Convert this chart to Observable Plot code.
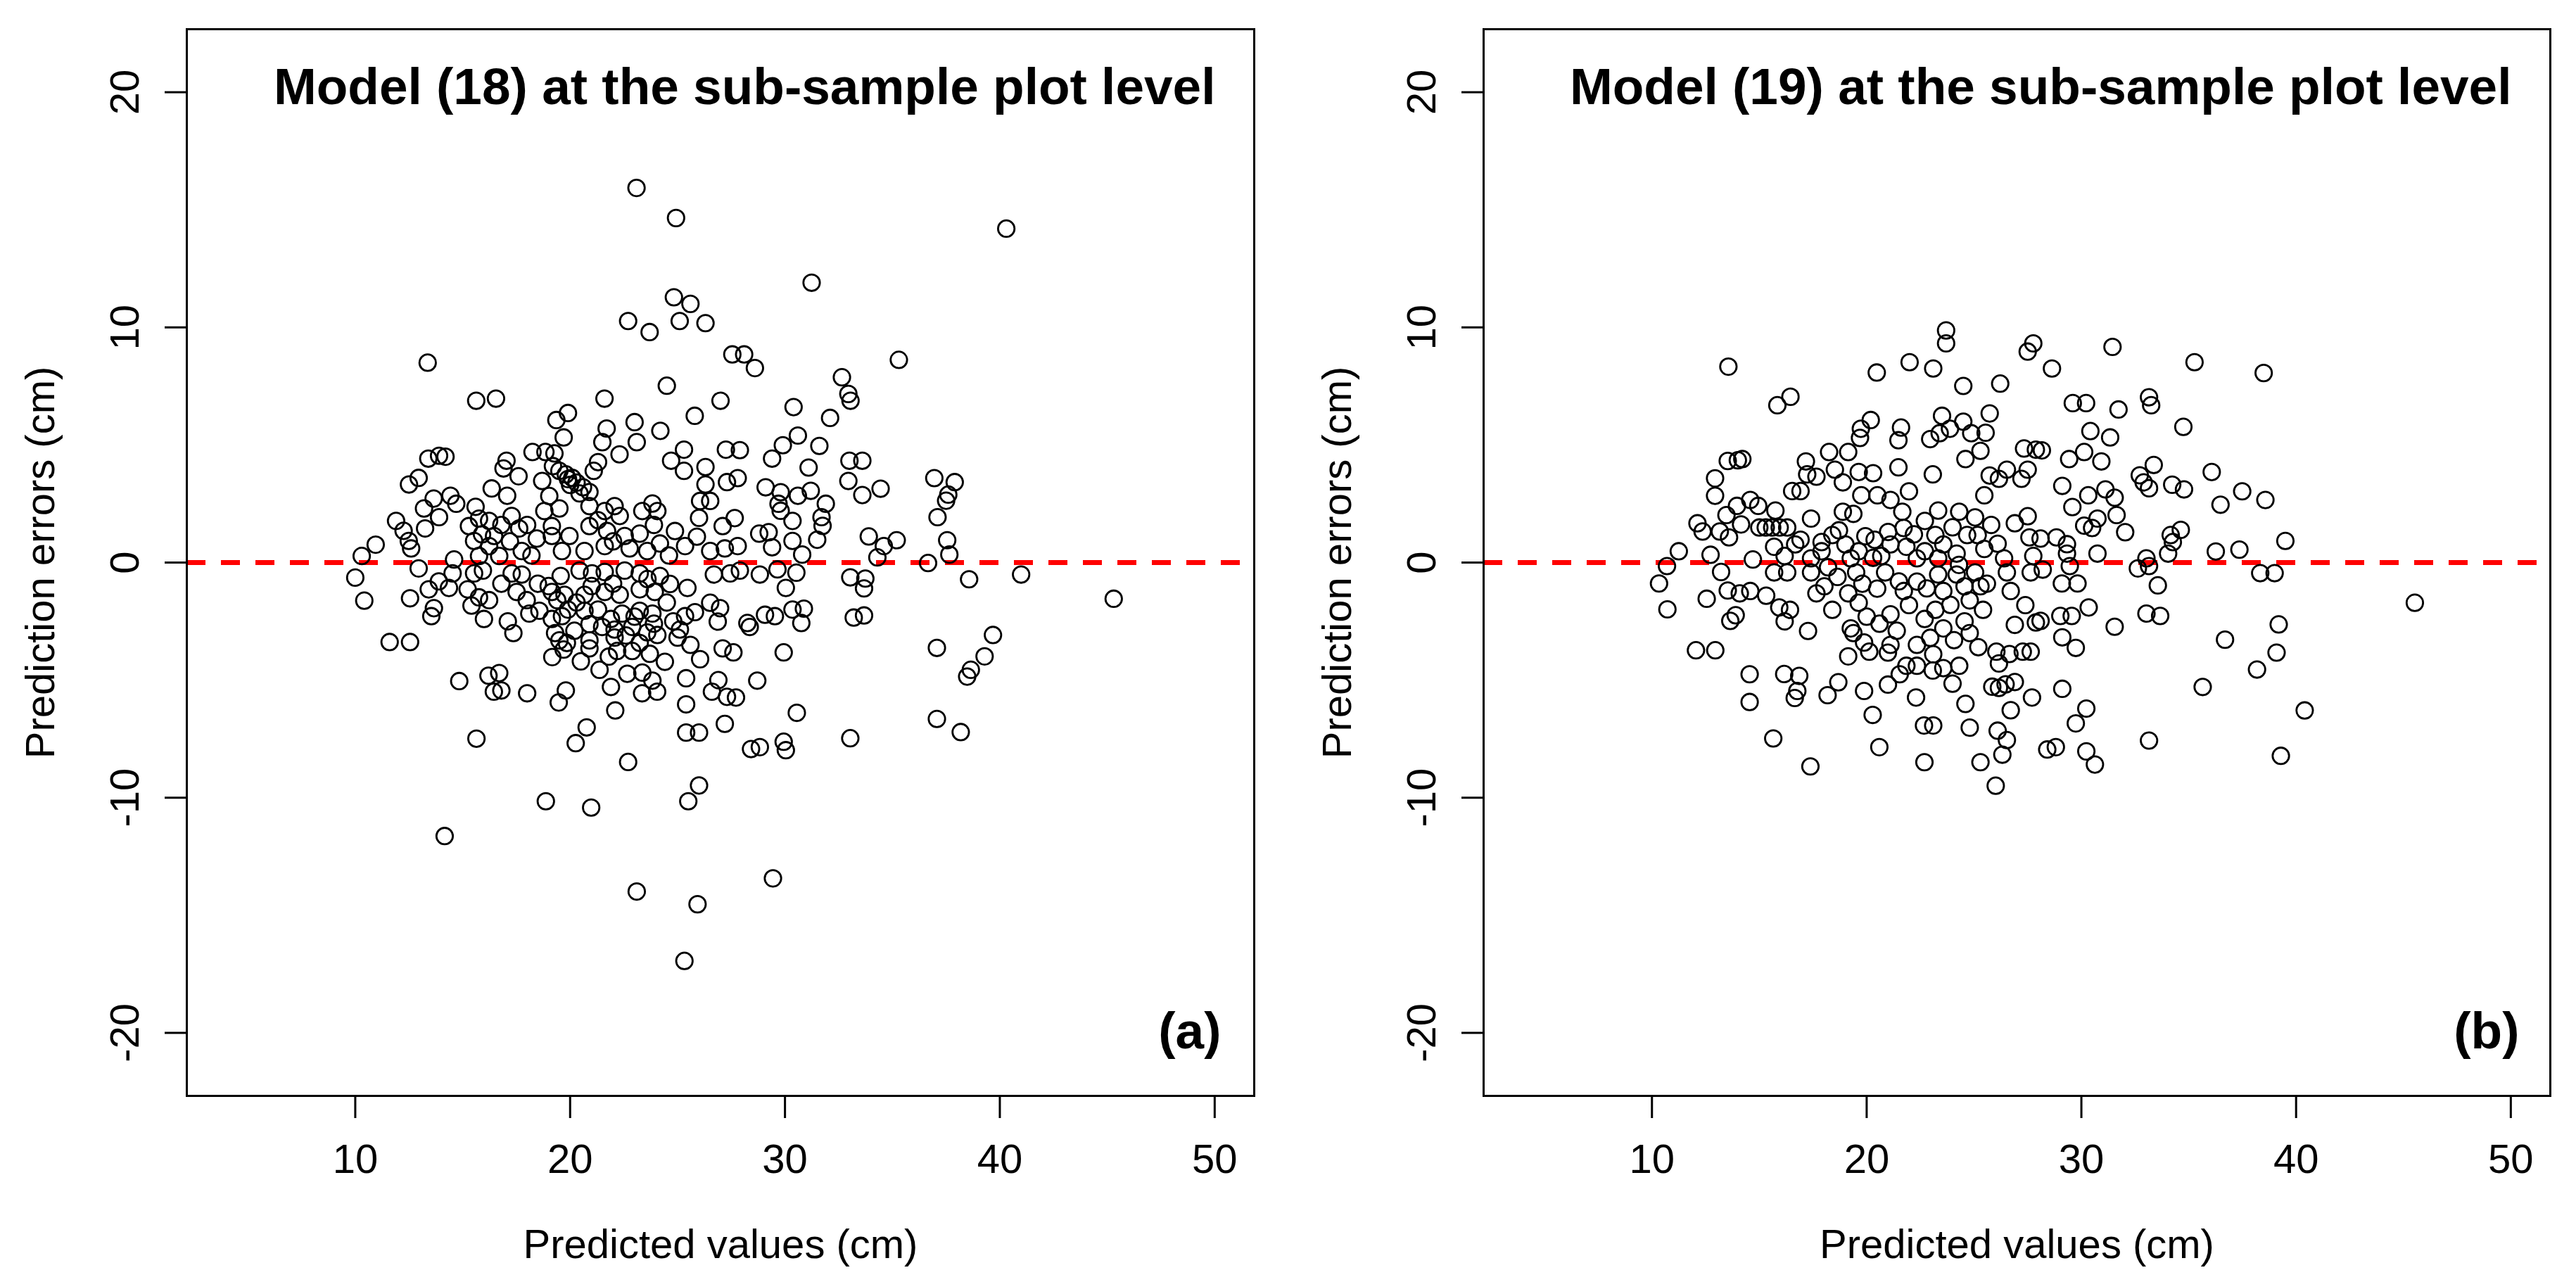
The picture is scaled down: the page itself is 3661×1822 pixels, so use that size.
<!DOCTYPE html>
<html><head><meta charset="utf-8">
<script src="https://cdn.jsdelivr.net/npm/d3@7"></script>
<script src="https://cdn.jsdelivr.net/npm/@observablehq/plot@0.6"></script>
<style>
html,body{margin:0;padding:0;background:#fff;}
#row{display:flex;width:3661px;height:1822px;overflow:hidden;}
#row svg{flex:none;}
</style></head><body><div id="row"></div>
<script>
// Model (18): [predicted value (cm), prediction error (cm)]
const model18 = [
[23.09,15.93],[24.93,14.65],[13.37,8.5],[24.83,11.28],[25.6,11.0],[22.7,10.27],[23.7,9.8],[25.1,10.27],[26.3,10.18],[27.55,8.85],[28.1,8.85],
[15.63,6.88],[16.55,6.97],[21.6,6.97],[24.5,7.52],[27.0,6.88],[19.9,6.36],[19.36,6.06],[23.0,5.97],[21.7,5.7],[24.2,5.6],[25.8,6.24],
[19.7,5.32],[21.5,5.12],[23.1,5.12],[22.3,4.6],[25.3,4.8],[27.25,4.8],[13.4,4.42],[13.9,4.54],[14.2,4.5],[18.25,4.7],[18.85,4.7],[19.27,4.64],
[17.04,4.33],[16.9,4.0],[17.6,3.67],[18.7,3.47],[21.3,4.27],[21.1,3.9],[24.7,4.33],[25.3,3.9],[26.3,4.06],[26.3,3.32],[27.3,3.42],
[12.95,3.6],[12.5,3.32],[16.35,3.15],[17.07,2.84],[13.65,2.72],[14.43,2.84],[14.7,2.5],[13.2,2.3],[13.9,1.93],[15.6,2.37],[11.9,1.77],
[12.25,1.35],[13.25,1.45],[10.95,0.76],[10.3,0.28],[12.6,0.6],[14.6,0.13],
[19.2,4.1],[19.5,3.9],[19.8,3.75],[20.1,3.6],[20.3,3.4],[20.6,3.2],[20.9,3.0],[20.0,3.3],[19.9,3.55],
[22.07,2.4],[23.83,2.51],[26.05,2.62],[26.52,2.62],[20.44,2.94],[19.03,2.83],
[15.29,1.55],[15.76,1.87],[16.23,1.77],[16.46,1.13],[17.28,1.98],[17.63,1.45],[15.53,0.92],[16.23,0.7],[15.76,0.28],[16.7,0.28],[17.75,0.49],
[18.45,1.02],[19.15,1.13],[19.97,1.13],[19.62,0.49],[18.8,2.19],[19.5,2.3],[19.15,1.55],[20.9,2.4],[21.61,2.19],[22.31,1.98],[23.36,2.19],
[24.06,2.19],[20.9,1.55],[21.72,1.34],[22.54,1.13],[23.24,1.23],[22.77,0.6],[23.59,0.49],[24.18,0.81],[24.88,1.34],[25.35,0.7],[26.52,0.49],
[27.1,1.55],[21.61,0.7],[20.67,0.49],[12.49,0.92],
[15.9,1.2],[16.8,1.6],[17.2,0.9],[18.0,1.6],[18.2,0.3],[21.3,1.8],[22.0,0.9],[23.9,1.6],[24.6,0.3],[25.9,1.1],[26.0,1.9],[27.2,0.6],
[40.3,14.2],[31.24,11.9],[28.6,8.27],[35.3,8.62],[32.65,7.88],[32.95,7.17],[33.05,6.88],[30.4,6.61],[32.1,6.15],[30.6,5.4],[29.9,4.99],
[31.6,4.96],[29.4,4.42],[27.9,4.78],[31.1,4.04],[33.0,4.33],[33.6,4.33],[32.95,3.47],[34.45,3.14],[33.6,2.87],[36.95,3.59],[37.9,3.42],
[37.6,2.89],[37.5,2.63],[37.1,1.93],[27.8,3.59],[29.1,3.2],[29.8,2.99],[30.6,2.84],[31.2,3.05],[31.9,2.5],[29.7,2.5],[29.8,2.2],[30.35,1.77],
[31.7,1.93],[31.75,1.56],[27.66,1.89],[28.8,1.23],[29.24,1.29],[29.4,0.65],[30.35,0.92],[30.8,0.34],[31.5,0.97],[33.9,1.11],[34.6,0.7],
[35.2,0.95],[34.3,0.22],[37.55,0.95],[37.65,0.34],[27.8,0.7],
[25.32,-16.94],[23.1,-13.99],[25.93,-14.53],[14.16,-11.63],[18.87,-10.15],[20.98,-10.42],[22.7,-8.48],[26.0,-9.48],[25.5,-10.15],
[15.64,-7.49],[20.77,-7.01],[20.26,-7.68],[22.1,-6.29],[25.4,-6.03],[25.4,-7.23],[26.0,-7.23],[27.2,-6.86],[27.3,-5.71],[14.84,-5.04],
[16.2,-4.81],[16.7,-4.7],[16.45,-5.49],[16.8,-5.44],[18.0,-5.56],[19.8,-5.44],[19.47,-5.95],[23.35,-5.56],[24.05,-5.49],[25.4,-4.92],
[21.9,-5.29],[26.9,-5.0],[26.6,-5.49],[11.6,-3.38],[12.55,-3.38],[10.0,-0.64],[12.95,-0.25],
[14.53,-0.46],[15.53,-0.46],[15.94,-0.34],[17.28,-0.46],[17.75,-0.51],[19.56,-0.57],[20.44,-0.34],[21.02,-0.46],[21.61,-0.4],[22.54,-0.34],
[23.24,-0.46],[24.18,-0.57],[26.69,-0.51],[27.45,-0.46],[10.42,-1.62],[12.55,-1.52],[13.42,-1.14],[13.89,-0.8],[14.36,-1.08],[15.23,-1.14],
[15.76,-1.48],[16.23,-1.6],[17.51,-1.25],[17.98,-1.6],[19.15,-1.25],[19.74,-1.37],[20.67,-1.37],[21.61,-1.25],[22.31,-1.37],[23.24,-1.14],
[23.94,-1.25],[24.65,-0.91],[25.46,-1.08],[26.52,-1.71],[26.98,-1.94],[13.66,-1.94],[13.54,-2.28],[15.41,-1.83],[15.99,-2.4],[18.1,-2.17],
[18.57,-2.05],[19.15,-2.4],[19.62,-2.28],[20.67,-2.05],[22.42,-2.17],[23.24,-2.05],[23.83,-2.17],[25.35,-2.28],[25.81,-2.11],[26.87,-2.51],
[21.49,-2.74],[22.07,-2.85],[22.89,-2.74],[23.59,-2.97],[25.11,-2.85],[20.9,-2.62],[17.36,-3.0],[19.5,-3.31],[19.85,-3.42],[20.9,-3.31],
[22.07,-3.19],[23.24,-3.42],[24.06,-3.08],[25.0,-3.19],[20.9,-3.65],[22.19,-3.76],[22.89,-3.76],[23.71,-3.88],[24.41,-4.22],[19.17,-4.02],
[26.05,-4.11],[27.1,-3.65],[21.37,-4.56],[22.66,-4.73],[23.36,-4.68],[23.83,-5.02],
[19.0,-1.0],[19.4,-1.6],[19.9,-2.0],[20.2,-2.9],[19.3,-3.0],[19.7,-3.7],[20.3,-1.7],[21.3,-2.0],[21.9,-2.4],[22.6,-3.1],[23.0,-2.3],
[23.9,-2.6],[24.5,-1.7],[21.0,-1.0],[22.0,-0.9],[23.6,-0.7],[18.5,-0.9],[16.8,-0.9],[17.1,-2.5],[24.8,-2.5],[25.6,-3.5],[20.5,-4.2],[21.8,-4.0],
[45.3,-1.54],[40.99,-0.51],[38.57,-0.71],[36.66,-0.02],[39.68,-3.08],[37.07,-3.63],[39.29,-3.99],[38.65,-4.56],[38.48,-4.85],[37.07,-6.65],
[38.18,-7.21],[29.44,-13.43],[33.04,-7.47],[28.42,-7.93],[28.83,-7.85],[29.94,-7.62],[30.04,-7.98],[30.55,-6.39],[28.71,-5.02],[27.72,-5.74],
[27.6,-3.82],[29.94,-3.82],[33.04,-0.63],[33.74,-0.68],[33.68,-1.1],[33.2,-2.34],[33.68,-2.25],[28.83,-0.51],[29.65,-0.29],[30.53,-0.43],
[30.04,-1.08],[27.9,-0.34],[28.25,-2.57],[28.36,-2.74],[29.07,-2.22],[29.53,-2.28],[30.35,-2.0],[30.88,-1.96],[30.76,-2.57]
];
// Model (19): [predicted value (cm), prediction error (cm)]
const model19 = [
[23.70,9.87],[23.70,9.32],[27.76,9.32],[27.5,8.97],[13.56,8.33],[20.47,8.08],[22.0,8.52],[23.1,8.25],[24.5,7.51],[26.22,7.61],[16.45,7.05],
[15.84,6.69],[20.19,6.06],[19.73,5.69],[19.69,5.3],[21.6,5.74],[21.48,5.2],[23.51,6.24],[24.5,5.99],[25.73,6.34],[23.88,5.69],[22.96,5.25],
[23.4,5.5],[24.87,5.5],[25.54,5.52],[25.3,4.75],[24.6,4.4],[27.33,4.85],[27.88,4.8],[18.25,4.7],[19.14,4.7],[17.17,4.3],[13.53,4.32],
[14.21,4.4],[14.0,4.35],[21.48,4.05],[23.08,3.75],[18.52,3.95],[19.63,3.85],[20.3,3.8],[17.23,3.75],[17.66,3.65],[18.89,3.41],[12.94,3.58],
[25.73,3.7],[26.53,3.95],[27.5,3.95],[26.16,3.56],[27.21,3.56],[21.97,3.03],[25.48,2.86],[12.94,2.84],[16.53,3.04],[16.92,3.04],[20.5,2.86],
[19.75,2.86],[21.11,2.66],[14.58,2.66],[13.96,2.41],[14.95,2.41],[15.75,2.21],[13.47,2.02],[18.89,2.16],[19.38,2.07],[21.66,2.16],[23.33,2.21],
[24.31,2.16],[25.05,1.92],[27.5,1.97],[26.9,1.67],[12.12,1.67],[12.36,1.32],[14.15,1.62],[13.16,1.32],[13.59,1.07],[15.0,1.49],[15.3,1.49],
[15.6,1.49],[15.95,1.49],[16.3,1.49],[17.41,1.87],[18.71,1.37],[19.94,1.12],[21.72,1.47],[22.71,1.77],[23.2,1.17],[24.68,1.17],[25.17,1.17],
[27.58,1.07],[11.25,0.48],[12.73,0.33],[15.69,0.67],[16.67,0.77],[17.9,0.48],[19.63,0.48],[21.11,0.77],[21.85,0.67],[22.71,0.48],[23.57,0.77],
[24.19,0.38],[25.48,0.58],[26.4,0.18],[27.76,0.28],[20.68,0.28],[16.18,0.28],[14.7,0.13],[16.92,0.97],[17.9,0.87],[18.4,1.17],[19.01,0.77],
[20.37,0.97],[22.34,0.18],[23.33,0.18],[17.41,0.18],[19.26,0.18],
[21.0,1.3],[22.2,1.2],[24.0,1.5],[25.8,1.6],[20.3,0.2],[26.1,0.8],
[31.45,9.17],[35.27,8.52],[38.49,8.06],[28.63,8.25],[29.6,6.78],[30.22,6.78],[31.73,6.51],[33.15,7.03],[33.25,6.69],[34.75,5.77],[30.42,5.59],
[31.34,5.32],[30.13,4.7],[29.43,4.4],[30.93,4.3],[28.16,4.77],[33.37,4.15],[32.72,3.71],[32.9,3.41],[33.15,3.16],[34.23,3.31],[34.78,3.11],
[36.07,3.85],[37.49,3.03],[38.57,2.66],[36.48,2.46],[29.11,3.26],[30.32,2.86],[31.12,3.11],[31.55,2.76],[29.58,2.36],[30.75,1.87],[31.64,2.02],
[30.13,1.57],[32.04,1.29],[34.63,1.39],[34.16,1.17],[34.26,0.87],[39.5,0.92],[36.26,0.47],[37.36,0.55],[30.75,0.38],[29.33,0.78],[28.1,1.02],
[34.04,0.38],[33.03,0.18],[29.33,0.38],[30.5,1.47],[28.84,1.07],
[10.7,-0.15],[10.33,-0.89],[10.72,-1.99],[12.55,-1.54],[13.9,-2.24],[13.65,-2.48],[13.53,-1.19],[13.22,-0.4],[12.05,-3.73],[12.95,-3.73],
[14.55,-4.75],[14.55,-5.93],[16.16,-4.74],[16.86,-4.82],[16.77,-5.46],[16.65,-5.76],[18.68,-5.09],[18.18,-5.64],[17.27,-2.91],[19.88,-5.46],
[20.28,-6.48],[20.99,-5.19],[15.65,-7.48],[17.38,-8.67],[20.59,-7.85],[22.3,-5.74],[21.54,-4.75],[20.99,-3.83],[22.67,-6.93],[23.1,-6.93],
[22.69,-8.49],[24.6,-6.01],[24.8,-7.02],[26.1,-7.15],[26.53,-7.55],[26.32,-8.17],[25.3,-8.49],[26.01,-9.49],[26.71,-6.28],[27.7,-5.74],
[24.0,-5.15],[25.85,-5.28],[26.16,-5.33],[26.47,-5.18],[26.9,-5.08],[22.34,-4.39],[23.08,-4.59],[23.57,-4.49],[24.31,-4.39],[26.04,-3.79],
[26.65,-3.89],[27.27,-3.79],[27.64,-3.79],[26.16,-4.29],[26.9,-2.65],[27.88,-2.55],[27.39,-1.81],[26.71,-1.21],[26.53,-0.42],[27.64,-0.42],
[21.85,-4.39],[14.09,-1.31],[14.58,-1.21],[15.32,-1.41],[15.93,-1.91],[16.18,-2.5],[16.43,-2.01],[15.69,-0.42],[16.3,-0.42],[17.41,-0.42],
[18.03,-1.01],[18.64,-0.61],[17.66,-1.31],[18.4,-2.01],[19.14,-1.31],[19.63,-1.71],[20.0,-2.3],[20.49,-1.11],[21.11,-2.2],[21.73,-1.21],
[21.97,-1.81],[22.34,-0.81],[23.2,-2.01],[23.57,-1.21],[24.19,-0.51],[24.56,-1.01],[24.8,-1.61],[25.3,-1.01],[24.56,-2.5],[23.57,-2.8],
[22.96,-3.2],[22.34,-3.5],[21.11,-3.5],[19.88,-3.4],[19.26,-2.8],[24.07,-3.3],[24.8,-3.0],[25.42,-2.01],[25.05,-0.42],[23.33,-0.51],
[20.86,-0.42],[19.51,-0.42],[19.38,-3.0],[20.12,-3.79],[19.14,-3.99],
[19.8,-0.9],[20.6,-2.6],[21.5,-0.8],[22.7,-2.4],[23.9,-1.8],[24.3,-0.1],[25.6,-0.9],[18.2,-0.2],[22.8,-1.1],[21.4,-2.9],[25.2,-3.6],[23.1,-3.9],
[38.33,-0.45],[39.0,-0.45],[33.56,-0.97],[39.19,-2.63],[36.69,-3.28],[39.09,-3.83],[38.18,-4.55],[35.65,-5.29],[40.4,-6.29],[39.29,-8.22],
[33.15,-7.57],[29.11,-5.37],[30.23,-6.21],[29.74,-6.84],[28.41,-7.95],[28.81,-7.85],[30.23,-8.03],[30.63,-8.59],[29.09,-0.89],[29.82,-0.89],
[29.02,-2.27],[29.55,-2.27],[30.34,-1.91],[31.55,-2.73],[29.11,-3.18],[29.74,-3.63],[33.03,-2.17],[33.67,-2.27],[32.63,-0.25],[33.15,-0.15],
[29.46,-0.15],[28.2,-0.3],[28.1,-2.48],[45.53,-1.71]
];
const xTicks = [10, 20, 30, 40, 50];
const yTicks = [-20, -10, 0, 10, 20];
const titles = ["Model (18) at the sub-sample plot level", "Model (19) at the sub-sample plot level"];
const tags = ["(a)", "(b)"];
const xLabel = "Predicted values (cm)";
const yLabel = "Prediction errors (cm)";
const refLine = [0];

function panel(data, title, tag, w, ml, mr, titleDx, tagDx) {
  return Plot.plot({
    width: w, height: 1822,
    marginLeft: ml, marginRight: mr, marginTop: 41, marginBottom: 265,
    x: {domain: [2.16, 51.84]},
    y: {domain: [-22.68, 22.68]},
    style: {fontFamily: "'Liberation Sans', Arial, sans-serif", background: "white", maxWidth: "none", overflow: "visible", color: "black"},
    marks: [
      Plot.ruleY(refLine, {stroke: "#ff0000", strokeWidth: 7, strokeDasharray: "27,22"}),
      Plot.dot(data, {x: d => d[0], y: d => d[1], r: 11.7, stroke: "black", strokeWidth: 2.8, fill: "none"}),
      Plot.frame({stroke: "black", strokeWidth: 3}),
      Plot.axisX({ticks: xTicks, tickSize: 32, tickPadding: 36, fontSize: 58, strokeWidth: 3, label: null, anchor: "bottom", tickFormat: d => String(d)}),
      Plot.axisY({ticks: yTicks, tickSize: 31, tickPadding: 38, tickRotate: -90, fontSize: 58, strokeWidth: 3, label: null, anchor: "left", tickFormat: d => String(d)}),
      Plot.text([title], {text: d => d, frameAnchor: "top-right", textAnchor: "end", lineAnchor: "top", dx: titleDx, dy: 55, fontSize: 73, fontWeight: "bold", fill: "black"}),
      Plot.text([tag], {text: d => d, frameAnchor: "bottom-right", textAnchor: "end", lineAnchor: "bottom", dx: tagDx, dy: -68, fontSize: 73, fontWeight: "bold", fill: "black"}),
      Plot.text([xLabel], {text: d => d, frameAnchor: "bottom", textAnchor: "middle", lineAnchor: "bottom", dy: 230, fontSize: 58, fill: "black"}),
      Plot.text([yLabel], {text: d => d, frameAnchor: "left", textAnchor: "middle", lineAnchor: "middle", rotate: -90, dx: -207, fontSize: 58, fill: "black"})
    ]
  });
}
const row = document.getElementById("row");
row.appendChild(panel(model18, titles[0], tags[0], 1830, 265, 48, -55, -47));
row.appendChild(panel(model19, titles[1], tags[1], 1831, 278, 37, -55, -44));
</script>
</body></html>
